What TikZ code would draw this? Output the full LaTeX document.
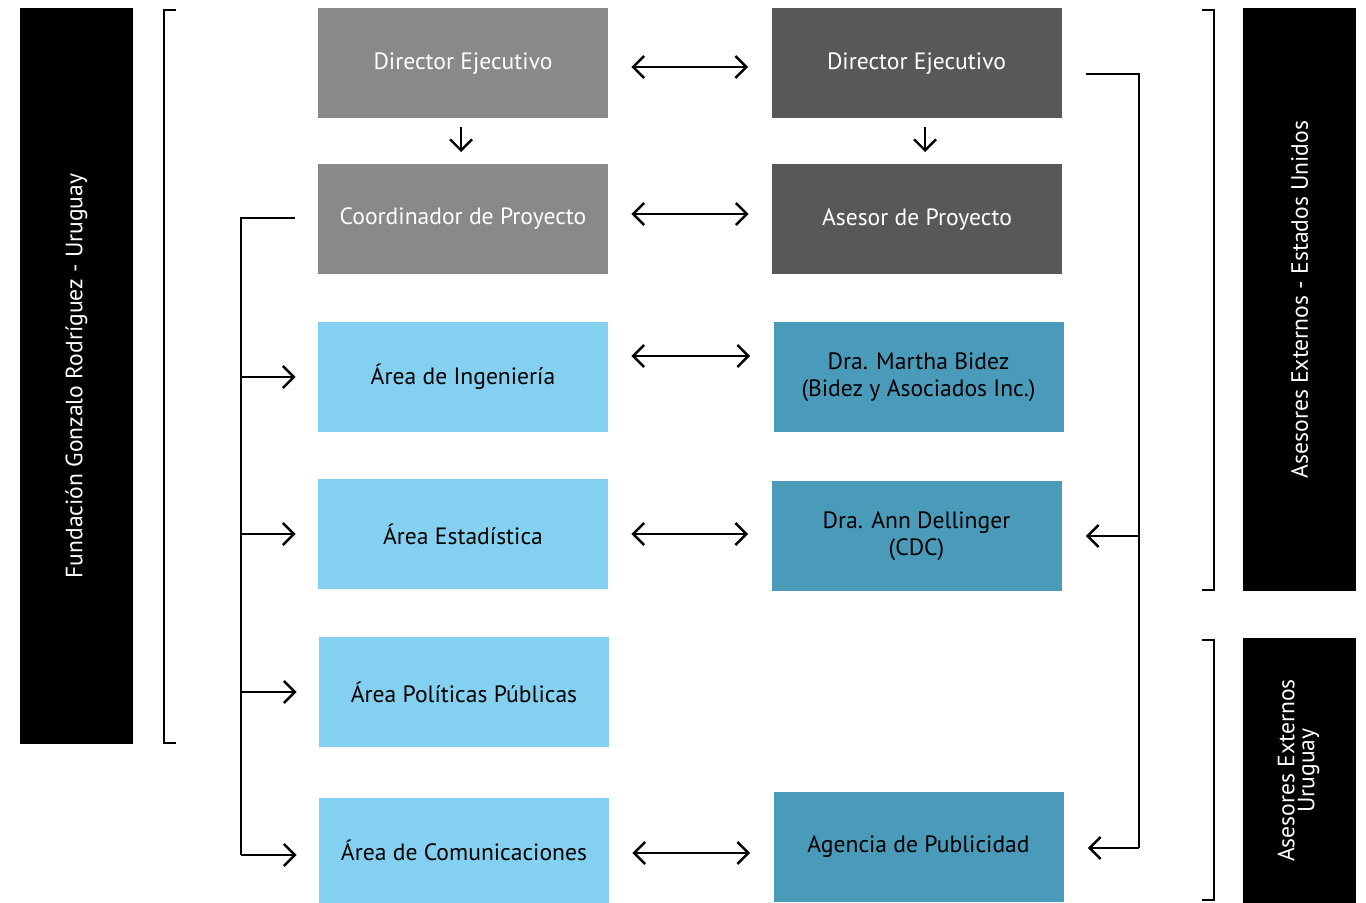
\documentclass[tikz,border=0pt]{standalone}
\usepackage{fontspec}
\setmainfont{PT Sans}
\usetikzlibrary{arrows.meta}

\definecolor{GrayLight}{HTML}{88898B}
\definecolor{GrayDark}{HTML}{58585A}
\definecolor{BlueLight}{HTML}{84D0F0}
\definecolor{BlueDark}{HTML}{4A9ABA}

\tikzset
{
  BoxStyle/.style =
  {
    shape = rectangle,
    minimum width = 145pt,
    minimum height = 55pt,
    inner sep = 0pt,
    align = center,
    font = \fontsize{11.8}{13.5}\selectfont,
  },
  BannerStyle/.style =
  {
    shape = rectangle,
    fill = black,
    text = white,
    minimum width = 56.5pt,
    inner sep = 0pt,
    align = center,
    font = \fontsize{11.8}{12}\selectfont,
  },
  LinkStyle/.style =
  {
    line width = 1.2pt,
    {Straight Barb[length=5.5pt,width=11pt]}-{Straight Barb[length=5.5pt,width=11pt]},
    shorten < = 11.5pt,
    shorten > = 11.5pt,
  },
  BranchStyle/.style =
  {
    line width = 1.2pt,
    -{Straight Barb[length=5.5pt,width=11pt]},
  },
  BracketStyle/.style =
  {
    line width = 1.2pt,
  },
}

\begin{document}
\begin{tikzpicture}[x=0.5pt,y=-0.5pt]
  \useasboundingbox (0,0) rectangle (1366,903);

  % side banners
  \node[BannerStyle, minimum height=368pt] (fgr) at (76.5,376)
    {\rotatebox{90}{Fundación Gonzalo Rodríguez - Uruguay}};
  \node[BannerStyle, minimum height=291.5pt] (aeu) at (1299.5,299.5)
    {\rotatebox{90}{Asesores Externos - Estados Unidos}};
  \node[BannerStyle, minimum height=132.5pt] (aur) at (1299.5,770.5)
    {\rotatebox{90}{\begin{tabular}{c}Asesores Externos\\[-2pt]Uruguay\end{tabular}}};

  % brackets
  \draw[BracketStyle] (176,10) -| (164,743) -- (176,743);
  \draw[BracketStyle] (1202,10) -| (1214,590) -- (1202,590);
  \draw[BracketStyle] (1202,640) -| (1214,900) -- (1202,900);

  % left column
  \node[BoxStyle, fill=GrayLight, text=white] (l1) at (463,63.5) {Director Ejecutivo};
  \node[BoxStyle, fill=GrayLight, text=white] (l2) at (463,219) {Coordinador de Proyecto};
  \node[BoxStyle, fill=BlueLight] (l3) at (463,377) {Área de Ingeniería};
  \node[BoxStyle, fill=BlueLight] (l4) at (463,534) {Área Estadística};
  \node[BoxStyle, fill=BlueLight] (l5) at (464,692) {Área Políticas Públicas};
  \node[BoxStyle, fill=BlueLight, minimum height=52.5pt] (l6) at (464,850.5) {Área de Comunicaciones};

  % right column
  \node[BoxStyle, fill=GrayDark, text=white] (r1) at (916.5,63.5) {Director Ejecutivo};
  \node[BoxStyle, fill=GrayDark, text=white] (r2) at (917,219.5) {Asesor de Proyecto};
  \node[BoxStyle, fill=BlueDark] (r3) at (918.5,377) {Dra. Martha Bidez\\(Bidez y Asociados Inc.)};
  \node[BoxStyle, fill=BlueDark] (r4) at (916.5,536) {Dra. Ann Dellinger\\(CDC)};
  \node[BoxStyle, fill=BlueDark] (r6) at (918.5,847) {Agencia de Publicidad};

  % links between columns
  \draw[LinkStyle] ([yshift=-1.75pt]l1.east) -- ([yshift=-1.75pt]r1.west);
  \draw[LinkStyle] ([yshift=2.5pt]l2.east) -- ([yshift=2.5pt]l2.east -| r2.west);
  \draw[LinkStyle] ([yshift=10.5pt]l3.east) -- ([yshift=10.5pt]l3.east -| r3.west);
  \draw[LinkStyle] (l4.east) -- (l4.east -| r4.west);
  \draw[LinkStyle] ([yshift=-1.25pt]l6.east) -- ([yshift=-1.25pt]l6.east -| r6.west);

  % down arrows
  \draw[BranchStyle] (461,127) -- (461,152);
  \draw[BranchStyle] (925,127) -- (925,152);

  % left tree
  \coordinate (ltop) at (241,218);
  \draw[BracketStyle] ([xshift=-11.5pt]l2.west |- ltop) -- (ltop) -- (241,855);
  \foreach \n in {l3,l4,l5}
    \draw[BranchStyle, shorten > = 11pt] (ltop |- \n.west) -- (\n.west);
  \draw[BranchStyle, shorten > = 11pt] (ltop |- 0,855) -- (0,855 -| l6.west);

  % right tree
  \coordinate (rtop) at (1139,74);
  \draw[BracketStyle] ([xshift=12pt]r1.east |- rtop) -- (rtop) -- (1139,848);
  \draw[BranchStyle, shorten > = 12pt] (rtop |- r4.east) -- (r4.east);
  \draw[BranchStyle, shorten > = 12pt] (rtop |- 0,848) -- (0,848 -| r6.east);
\end{tikzpicture}
\end{document}
